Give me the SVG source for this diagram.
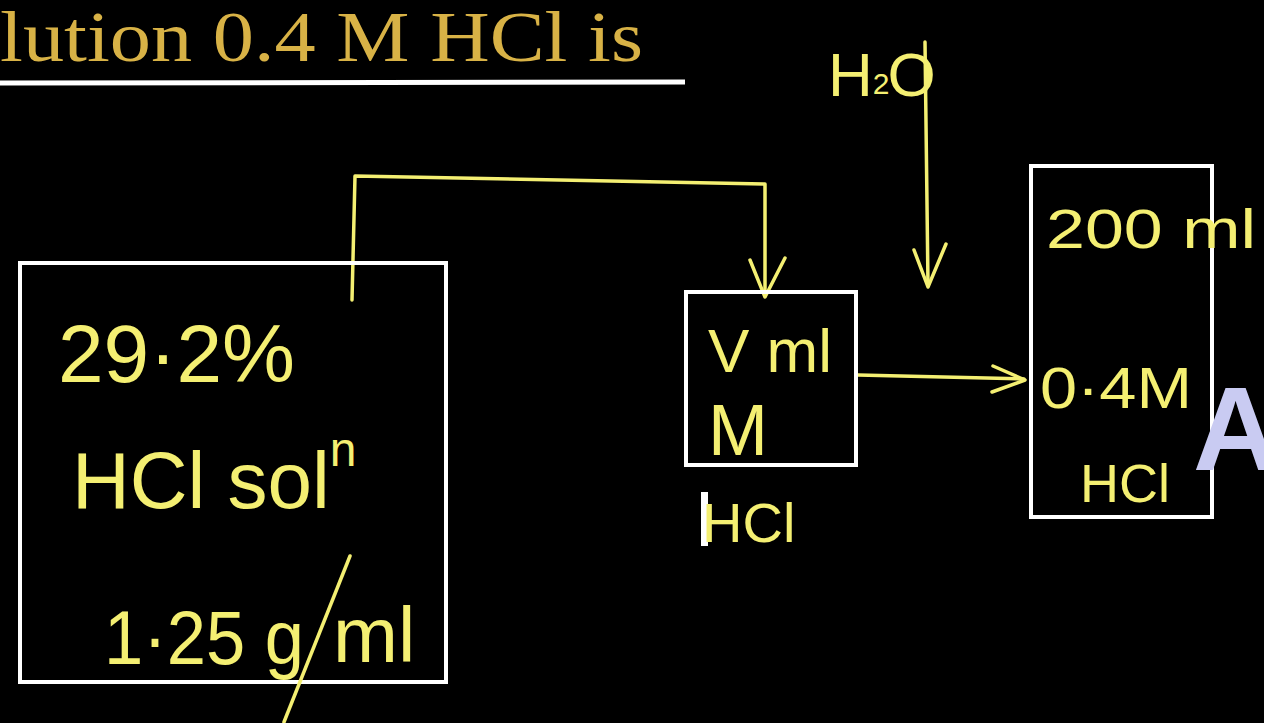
<svg xmlns="http://www.w3.org/2000/svg" width="1264" height="723" viewBox="0 0 1264 723">
<style>
.box{fill:none;stroke:#ffffff;stroke-width:4}
.hw{fill:#f4ef72;font-family:"Liberation Sans","DejaVu Sans",sans-serif}
.ln{fill:none;stroke:#f4ef72;stroke-width:3.5;stroke-linecap:round;stroke-linejoin:round}
</style>
<rect width="1264" height="723" fill="#000"/>
<g id="title">
<text x="0" y="61" font-family="'Liberation Serif',serif" font-size="72" fill="#d8b246" textLength="643" lengthAdjust="spacingAndGlyphs">lution 0.4 M HCl is</text>
<line x1="0" y1="83" x2="685" y2="82" stroke="#fff" stroke-width="5"/>
</g>
<g id="connectors">
<path class="ln" d="M352 300 L355 176 L765 184 L765 296"/>
<path class="ln" d="M750 260 L765 297 L785 258"/>
<path class="ln" d="M858 375 L1024 379"/>
<path class="ln" d="M993 366 L1025 380 L992 392"/>
<path class="ln" d="M925 42 L928 285"/>
<path class="ln" d="M914 250 L928 287 L946 244"/>
</g>
<g id="node-stock">
<rect class="box" x="20" y="263" width="426" height="419"/>
<text class="hw" x="58" y="382" font-size="82">29·2%</text>
<text class="hw" x="72" y="508" font-size="80">HCl sol<tspan font-size="48" dy="-42">n</tspan></text>
<text class="hw" x="104" y="664" font-size="76" textLength="200" lengthAdjust="spacingAndGlyphs">1·25 g</text>
<path class="ln" d="M350 556 L284 722"/>
<text class="hw" x="333" y="662" font-size="78">ml</text>
</g>
<g id="node-middle">
<rect class="box" x="686" y="292" width="170" height="173"/>
<text class="hw" x="708" y="372" font-size="62">V ml</text>
<text class="hw" x="708" y="455" font-size="72">M</text>
<rect x="701" y="492" width="7" height="54" fill="#fff"/>
<text class="hw" x="702" y="542" font-size="56">HCl</text>
</g>
<g id="node-water">
<text class="hw" x="828" y="96" font-size="62">H<tspan font-size="30" dy="-2">2</tspan><tspan dy="2" dx="-2">O</tspan></text>
</g>
<g id="node-final">
<rect class="box" x="1031" y="166" width="181" height="351"/>
<text class="hw" x="1046" y="248" font-size="56" textLength="210" lengthAdjust="spacingAndGlyphs">200 ml</text>
<text class="hw" x="1040" y="408" font-size="58" textLength="152" lengthAdjust="spacingAndGlyphs">0·4M</text>
<text class="hw" x="1080" y="502" font-size="54">HCl</text>
</g>
<text x="1193" y="470" font-family="'Liberation Sans',sans-serif" font-weight="bold" font-size="118" fill="#c9cbf2">A</text>
</svg>
